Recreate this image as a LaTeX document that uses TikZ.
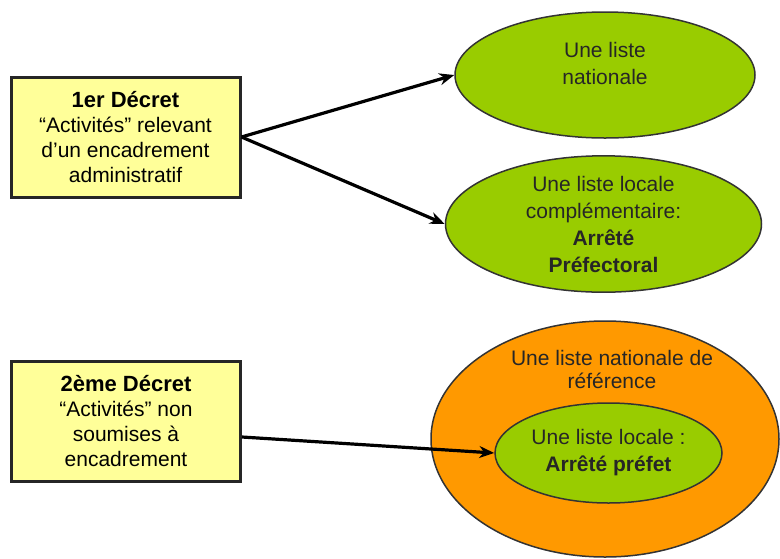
\documentclass[tikz,border=0pt]{standalone}
\usepackage{fontspec}
\setmainfont{Liberation Sans}
\usetikzlibrary{shapes.geometric,arrows.meta}
\definecolor{decretfill}{HTML}{FFFF99}
\definecolor{listegreen}{HTML}{99CC00}
\definecolor{listeorange}{HTML}{FF9900}

\begin{document}
\begin{tikzpicture}[x=1pt,y=-1pt,
    decret/.style={draw=black!85,line width=3pt,fill=decretfill,minimum width=229pt,
      minimum height=120pt,align=center,font=\fontsize{21}{25}\selectfont},
    liste/.style={ellipse,draw=black!80,line width=1.5pt,inner sep=0pt,align=center,
      font=\fontsize{21}{27}\selectfont,text=black!85},
    lien/.style={-{Stealth[length=15pt,width=12pt]},line width=3.2pt,black}]
  \useasboundingbox (0,0) rectangle (780,558);
  % decrets
  \node[decret] (d1) at (125.5,137) {{\fontsize{22}{25}\selectfont\bfseries 1er D\'ecret}\\``Activit\'es'' relevant\\d'un encadrement\\administratif};
  \node[decret] (d2) at (126,421) {{\fontsize{22}{25}\selectfont\bfseries 2\`eme D\'ecret}\\``Activit\'es'' non\\soumises \`a\\encadrement};
  % listes
  \node[liste,fill=listegreen,minimum width=300pt,minimum height=126pt] (nat) at (605,75) {};
  \node[font=\fontsize{21}{27}\selectfont,align=center,text=black!85] (natxt) at (605,63) {Une liste\\nationale};
  \node[liste,fill=listegreen,minimum width=316pt,minimum height=136pt] (loc) at (603.5,224)
    {Une liste locale\\compl\'ementaire:\\\textbf{Arr\^et\'e}\\\textbf{Pr\'efectoral}};
  \node[liste,fill=listeorange,minimum width=348pt,minimum height=236pt] (ref) at (605,439) {};
  \node[font=\fontsize{21}{23}\selectfont,align=center,text=black!85] (reftxt) at (612,369) {Une liste nationale de\\r\'ef\'erence};
  \node[liste,fill=listegreen,minimum width=227pt,minimum height=100pt] (pref) at (608.5,453)
    {Une liste locale :\\\textbf{Arr\^et\'e pr\'efet}};
  % fleches
  \path[lien]
    (d1.east) edge (nat.west)
    (d1.east) edge (loc.west)
    ([yshift=-16pt]d2.east) edge (pref.west);
\end{tikzpicture}
\end{document}
